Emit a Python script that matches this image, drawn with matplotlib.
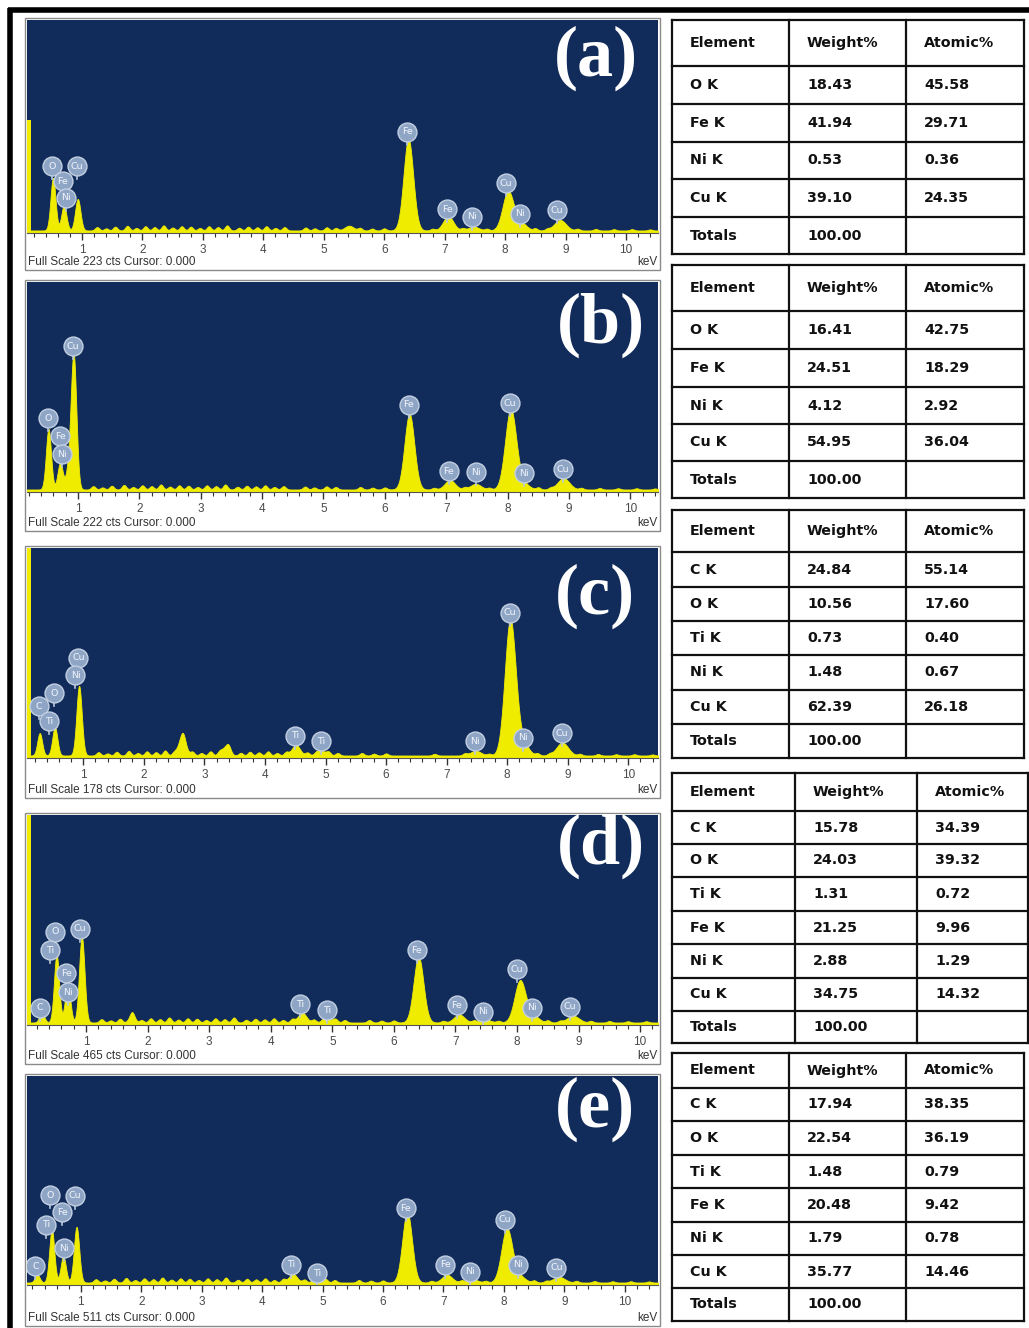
import numpy as np
import matplotlib.pyplot as plt
from matplotlib.ticker import MultipleLocator
from matplotlib.patches import Rectangle

W, H = 1029, 1328

# ---------------- spectra data ----------------
panel_tags = ['(a)', '(b)', '(c)', '(d)', '(e)']
full_scale = [223, 222, 178, 465, 511]
strobe = [118, 0, 230, 560, 0]          # zero-energy strobe bar (counts)

peak_E = [
    [0.52, 0.70, 0.93, 5.42, 6.40, 7.06, 7.48, 8.05, 8.26, 8.91],
    [0.52, 0.71, 0.85, 0.93, 6.40, 7.06, 7.48, 8.05, 8.26, 8.91],
    [0.28, 0.53, 0.93, 2.63, 3.35, 4.51, 4.93, 7.48, 8.05, 8.26, 8.91],
    [0.28, 0.52, 0.70, 0.93, 1.74, 4.51, 4.93, 6.40, 7.06, 7.48, 8.05, 8.26, 8.91],
    [0.28, 0.52, 0.71, 0.93, 4.51, 4.93, 6.40, 7.06, 7.48, 8.05, 8.26, 8.91],
]
peak_I = [
    [55, 26, 33, 5, 96, 15, 4, 41, 8, 11],
    [64, 28, 22, 140, 80, 10, 6, 85, 6, 12],
    [19, 24, 59, 16, 7, 9, 4, 4, 115, 10, 11],
    [22, 150, 86, 190, 13, 22, 8, 146, 18, 7, 93, 15, 15],
    [19, 130, 64, 136, 21, 6, 173, 19, 8, 132, 15, 14],
]

# small bumps in the background (keV, fraction of full scale)
noise_E = [1.25, 1.4, 1.55, 1.75, 1.9, 2.05, 2.2, 2.35, 2.5, 2.65, 2.8, 2.95,
           3.1, 3.25, 3.4, 3.6, 3.75, 3.9, 4.05, 4.2, 4.35, 4.7, 4.85, 5.05,
           5.2, 5.6, 5.8, 6.0, 6.8, 7.3, 7.7, 8.5, 8.7, 9.2, 9.5, 9.8, 10.1, 10.4]
noise_F = [0.016, 0.01, 0.018, 0.022, 0.012, 0.02, 0.016, 0.024, 0.014, 0.02,
           0.018, 0.012, 0.02, 0.016, 0.024, 0.013, 0.018, 0.015, 0.02, 0.012,
           0.016, 0.014, 0.01, 0.015, 0.012, 0.012, 0.009, 0.01, 0.008, 0.009,
           0.008, 0.01, 0.007, 0.008, 0.007, 0.006, 0.006, 0.005]

# peak labels: element, energy (keV), label centre height (counts)
lab_el = [
    ['O', 'Cu', 'Fe', 'Ni', 'Fe', 'Fe', 'Ni', 'Cu', 'Ni', 'Cu'],
    ['Cu', 'O', 'Fe', 'Ni', 'Fe', 'Fe', 'Ni', 'Cu', 'Ni', 'Cu'],
    ['Cu', 'Ni', 'O', 'C', 'Ti', 'Ti', 'Ti', 'Ni', 'Cu', 'Ni', 'Cu'],
    ['O', 'Cu', 'Ti', 'Fe', 'Ni', 'C', 'Ti', 'Ti', 'Fe', 'Fe', 'Ni', 'Cu', 'Ni', 'Cu'],
    ['O', 'Cu', 'Fe', 'Ti', 'Ni', 'C', 'Ti', 'Ti', 'Fe', 'Fe', 'Ni', 'Cu', 'Ni', 'Cu'],
]
lab_E = [
    [0.50, 0.92, 0.68, 0.73, 6.38, 7.04, 7.45, 8.02, 8.25, 8.86],
    [0.92, 0.51, 0.71, 0.74, 6.39, 7.04, 7.48, 8.04, 8.26, 8.90],
    [0.92, 0.87, 0.52, 0.26, 0.44, 4.50, 4.93, 7.47, 8.05, 8.26, 8.90],
    [0.50, 0.90, 0.42, 0.68, 0.71, 0.25, 4.47, 4.91, 6.37, 7.02, 7.45, 8.00, 8.24, 8.86],
    [0.49, 0.90, 0.69, 0.42, 0.72, 0.25, 4.48, 4.91, 6.38, 7.03, 7.44, 8.02, 8.24, 8.87],
]
lab_C = [
    [70, 70, 54, 37, 106, 25, 17, 52, 20, 24],
    [154, 78, 59, 40, 92, 22, 21, 94, 20, 24],
    [85, 70, 55, 44, 31, 19, 14, 14, 123, 17, 21],
    [206, 213, 166, 115, 73, 38, 46, 33, 166, 44, 29, 124, 38, 40],
    [220, 218, 178, 147, 90, 46, 49, 29, 188, 49, 32, 159, 49, 42],
]

# ---------------- EDS tables ----------------
header = ['Element', 'Weight%', 'Atomic%']
tab_rows = [
    [['O K', '18.43', '45.58'], ['Fe K', '41.94', '29.71'], ['Ni K', '0.53', '0.36'],
     ['Cu K', '39.10', '24.35'], ['Totals', '100.00', '']],
    [['O K', '16.41', '42.75'], ['Fe K', '24.51', '18.29'], ['Ni K', '4.12', '2.92'],
     ['Cu K', '54.95', '36.04'], ['Totals', '100.00', '']],
    [['C K', '24.84', '55.14'], ['O K', '10.56', '17.60'], ['Ti K', '0.73', '0.40'],
     ['Ni K', '1.48', '0.67'], ['Cu K', '62.39', '26.18'], ['Totals', '100.00', '']],
    [['C K', '15.78', '34.39'], ['O K', '24.03', '39.32'], ['Ti K', '1.31', '0.72'],
     ['Fe K', '21.25', '9.96'], ['Ni K', '2.88', '1.29'], ['Cu K', '34.75', '14.32'],
     ['Totals', '100.00', '']],
    [['C K', '17.94', '38.35'], ['O K', '22.54', '36.19'], ['Ti K', '1.48', '0.79'],
     ['Fe K', '20.48', '9.42'], ['Ni K', '1.79', '0.78'], ['Cu K', '35.77', '14.46'],
     ['Totals', '100.00', '']],
]

# ---------------- layout (pixels) ----------------
tops = [20, 282, 548, 815, 1076]
bases = [233, 492, 758, 1025, 1285]
foot_y = [262, 523, 790, 1056, 1318]
xmins = [0.09, 0.17, 0.07, 0.04, 0.11]
xmaxs = [10.53, 10.45, 10.49, 10.29, 10.55]
tag_pos = [(0.902, 0.82), (0.91, 0.795), (0.9, 0.77), (0.91, 0.85), (0.9, 0.84)]
tab_cols = [[672, 789, 906, 1024]] * 3 + [[672, 795, 917, 1028], [672, 789, 906, 1024]]
tab_lines = [
    [20, 66, 104, 142, 179, 217, 254],
    [265, 311, 349, 387, 424, 461, 498],
    [510, 552, 587, 621, 655, 690, 724, 758],
    [773, 811, 844, 877, 911, 944, 978, 1011, 1043],
    [1053, 1088, 1121, 1155, 1188, 1222, 1255, 1288, 1321],
]

BLUE = '#112b5b'
YEL = '#f0ec00'
BADGE = '#8ea5c6'

fig = plt.figure(figsize=(W / 100, H / 100), dpi=100)
bg = fig.add_axes([0, 0, 1, 1])
bg.set_xlim(0, W)
bg.set_ylim(H, 0)
bg.axis('off')

# outer frame
bg.plot([8, W], [10, 10], color='black', lw=4, solid_capstyle='butt')
bg.plot([10, 10], [8, H], color='black', lw=4, solid_capstyle='butt')

E = np.arange(0, 10.8, 0.004)
for k in range(5):
    fs = full_scale[k]
    top, base = tops[k], bases[k]
    hpx = base - top
    # panel frame
    bg.add_patch(Rectangle((25, top - 2), 635, foot_y[k] + 8 - top + 2,
                           fc='white', ec='#8a8a8a', lw=1.0))

    ax = fig.add_axes([27 / W, 1 - base / H, 631 / W, hpx / H])
    ax.set_facecolor(BLUE)
    ax.set_xlim(xmins[k], xmaxs[k])
    ax.set_ylim(0, fs)

    sp = np.full_like(E, 0.012 * fs)
    for e0, f0 in zip(noise_E, noise_F):
        sp += f0 * fs * np.exp(-0.5 * ((E - e0) / 0.035) ** 2)
    for e0, i0 in zip(peak_E[k], peak_I[k]):
        s = 0.038 + 0.0065 * e0
        if e0 == 2.63:
            s = 0.06
        sp += i0 * np.exp(-0.5 * ((E - e0) / s) ** 2)
    ax.fill_between(E, 0, sp, color=YEL, lw=0.6)
    if strobe[k] > 0:
        ax.bar(xmins[k], strobe[k], width=0.06, align='edge', color=YEL, lw=0)

    # peak labels
    cpp = fs / hpx
    for el, e0, c0 in zip(lab_el[k], lab_E[k], lab_C[k]):
        ax.plot([e0, e0], [c0 - 8 * cpp, c0 - 13 * cpp], color='#b9c8dc', lw=1.2, zorder=4)
        ax.scatter([e0], [c0], s=185, marker='o', fc=BADGE, ec='#c3d0e2', lw=1.0, zorder=5)
        ax.text(e0, c0, el, ha='center', va='center', fontsize=6.8, color='#f2f5fa',
                zorder=6)

    ax.text(tag_pos[k][0], tag_pos[k][1], panel_tags[k], transform=ax.transAxes,
            ha='center', va='center', fontsize=52, fontweight='bold', color='white',
            family='Liberation Serif')

    ax.set_yticks([])
    ax.set_xticks(range(1, 11))
    ax.xaxis.set_minor_locator(MultipleLocator(0.2))
    ax.tick_params(axis='x', which='major', direction='out', length=5, width=1,
                   color='#333333', labelsize=8.5, labelcolor='#4a4a4a', pad=3)
    ax.tick_params(axis='x', which='minor', direction='out', length=3, width=0.8,
                   color='#333333')
    for lab in ax.get_xticklabels():
        lab.set_family('Liberation Sans')
    for s_ in ['top', 'right', 'left']:
        ax.spines[s_].set_visible(False)
    ax.spines['bottom'].set_color('#555555')

    bg.text(28, foot_y[k], 'Full Scale %d cts Cursor: 0.000' % fs, fontsize=8.5,
            color='#333333', va='center', family='Liberation Sans')
    bg.text(657, foot_y[k], 'keV', fontsize=8.5, color='#333333', va='center',
            ha='right', family='Liberation Sans')

    # table
    cols = tab_cols[k]
    lines = tab_lines[k]
    for x in cols:
        bg.plot([x, x], [lines[0], lines[-1]], color='#111111', lw=1.6)
    for y in lines:
        bg.plot([cols[0], cols[-1]], [y, y], color='#111111', lw=1.6)
    rows = [header] + tab_rows[k]
    for i, row in enumerate(rows):
        yc = (lines[i] + lines[i + 1]) / 2
        for j, cell in enumerate(row):
            bg.text(cols[j] + 18, yc, cell, fontsize=10.3, fontweight='bold',
                    color='#111111', va='center', ha='left', family='DejaVu Sans')

fig.savefig('out.png', dpi=100)
